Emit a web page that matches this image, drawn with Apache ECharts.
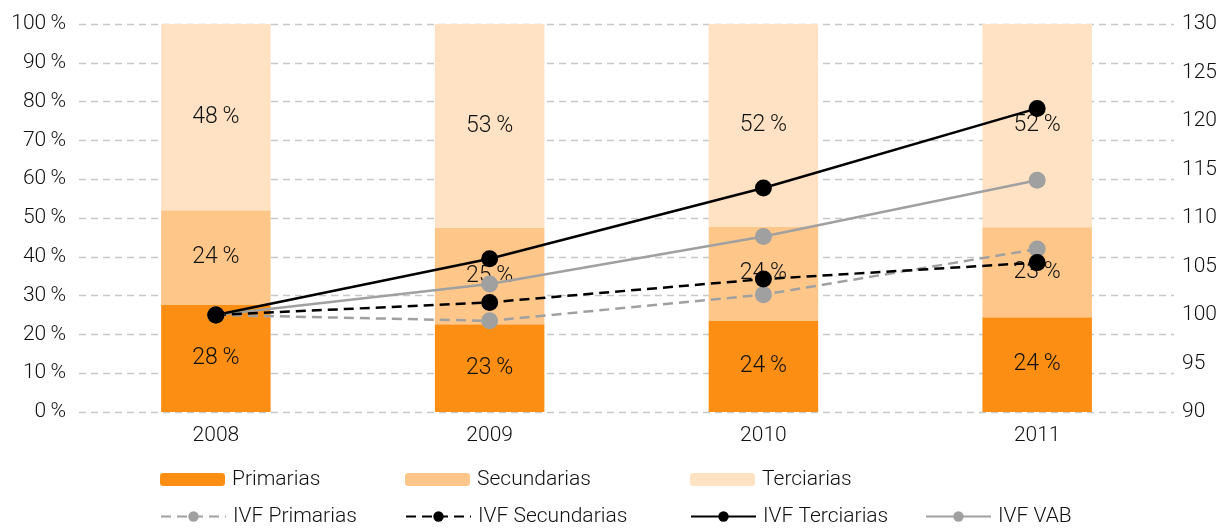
<!DOCTYPE html>
<html>
<head>
<meta charset="utf-8">
<script src="https://cdn.jsdelivr.net/npm/echarts@6/dist/echarts.min.js"></script>
<style>
  html, body { margin: 0; padding: 0; background: #fff; }
  #chart { width: 1220px; height: 528px; }
</style>
</head>
<body>
<div id="chart"></div>
<script>
var years = ["2008", "2009", "2010", "2011"];

// shares (%) of each sector, label shows the rounded value
var primarias = [27.6, 22.6, 23.6, 24.4];
var secundarias = [24.4, 24.8, 24.1, 23.2];
var terciarias = [48.0, 52.6, 52.3, 52.4];

// volume indices (2008 = 100)
var ivfPrimarias = [100, 99.4, 102.1, 106.8];
var ivfSecundarias = [100, 101.3, 103.7, 105.4];
var ivfTerciarias = [100, 105.8, 113.1, 121.3];
var ivfVab = [100, 103.2, 108.1, 113.9];

var FONT = "Roboto";
var chart = echarts.init(document.getElementById("chart"));

function barLabel() {
    return {
        show: true,
        position: "inside",
        fontFamily: FONT,
        fontWeight: 300,
        fontSize: 23,
        color: "#111",
        formatter: function (p) { return Math.round(p.value) + "\u2009%"; }
    };
}

function lineSeries(name, data, color, type) {
    return {
        name: name,
        type: "line",
        yAxisIndex: 1,
        data: data,
        symbol: "circle",
        symbolSize: 17,
        z: 5,
        itemStyle: { color: color },
        lineStyle: { color: color, width: 2.5, type: type }
    };
}

// one legend per item, the original lays them out in fixed columns
function legendAt(name, left, top) {
    return {
        data: [name],
        left: left,
        top: top,
        padding: 0,
        itemWidth: 65,
        itemHeight: 13,
        itemGap: 0,
        textStyle: { fontFamily: FONT, fontWeight: 300, fontSize: 21, color: "#111",
                     verticalAlign: "top", lineHeight: 10, padding: [0, 0, 0, 2] }
    };
}

var option = {
    animation: false,
    grid: { left: 79, right: 45, top: 24, bottom: 116 },
    legend: [
        legendAt("Primarias", 160, 469),
        legendAt("Secundarias", 405, 469),
        legendAt("Terciarias", 690, 469),
        legendAt("IVF Primarias", 160, 506),
        legendAt("IVF Secundarias", 405, 506),
        legendAt("IVF Terciarias", 690, 506),
        legendAt("IVF VAB", 925, 506)
    ],
    xAxis: {
        type: "category",
        data: years,
        axisLine: { show: false },
        axisTick: { show: false },
        axisLabel: { fontFamily: FONT, fontWeight: 300, fontSize: 21, color: "#111", margin: 13 }
    },
    yAxis: [
        {
            type: "value",
            min: 0, max: 100, interval: 10,
            axisLabel: { formatter: "{value}\u2009%", fontFamily: FONT, fontWeight: 300, fontSize: 21, color: "#111", margin: 13 },
            splitLine: { lineStyle: { color: "#c8c8c8", type: [7, 5], width: 1.3 } }
        },
        {
            type: "value",
            min: 90, max: 130, interval: 5,
            axisLabel: { fontFamily: FONT, fontWeight: 300, fontSize: 21, color: "#111", margin: 8 },
            splitLine: { show: false }
        }
    ],
    series: [
        { name: "Primarias", type: "bar", stack: "s", barWidth: "40%", data: primarias,
          itemStyle: { color: "#fc8e14" }, label: barLabel() },
        { name: "Secundarias", type: "bar", stack: "s", data: secundarias,
          itemStyle: { color: "#ffc68a" }, label: barLabel() },
        { name: "Terciarias", type: "bar", stack: "s", data: terciarias,
          itemStyle: { color: "#ffe2c4" }, label: barLabel() },
        // drawn in this order so the black markers sit on top, as in the original
        lineSeries("IVF VAB", ivfVab, "#a0a0a0", "solid"),
        lineSeries("IVF Primarias", ivfPrimarias, "#a0a0a0", [10, 6]),
        lineSeries("IVF Secundarias", ivfSecundarias, "#000000", [10, 6]),
        lineSeries("IVF Terciarias", ivfTerciarias, "#000000", "solid")
    ]
};

chart.setOption(option);
</script>
</body>
</html>
